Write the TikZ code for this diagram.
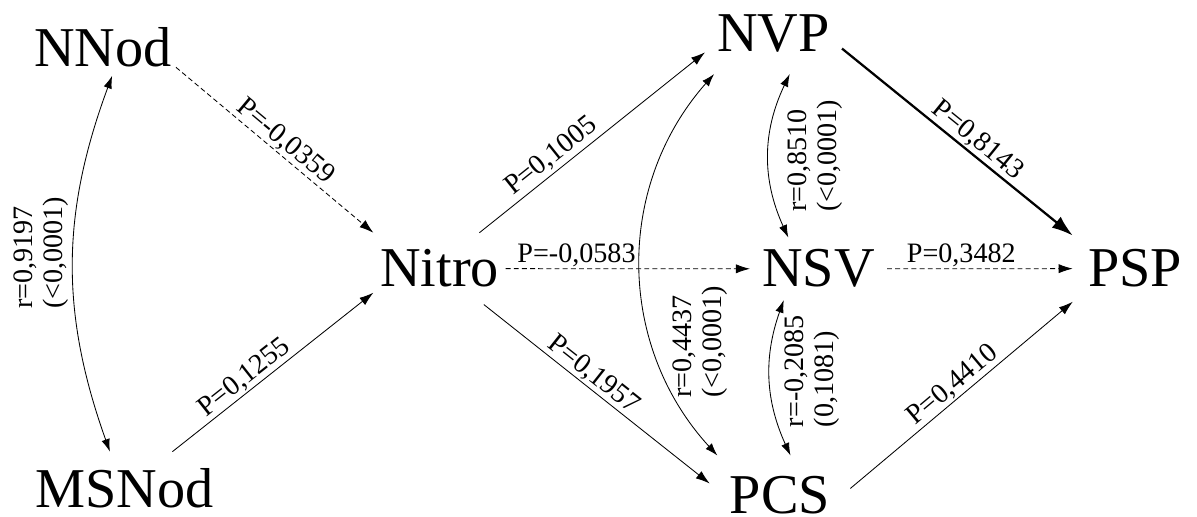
\documentclass[tikz,border=0pt]{standalone}
\usepackage{fontspec}
\setmainfont{Liberation Serif}
\usetikzlibrary{arrows.meta}

\begin{document}
\begin{tikzpicture}[x=0.025cm,y=-0.025cm,
  var/.style={font=\fontsize{40}{44}\selectfont,anchor=base},
  coef/.style={font=\fontsize{20}{21}\selectfont,sloped,above,inner sep=1pt},
  corr/.style={font=\fontsize{20}{21}\selectfont,rotate=90,align=left},
  arr/.style={line width=0.6pt,-{Latex[length=10pt,width=6.5pt]}},
  darr/.style={arr,dash pattern=on 3.5pt off 2.3pt},
  barr/.style={line width=0.6pt,{Latex[length=9pt,width=6pt]}-{Latex[length=9pt,width=6pt]}},
  tarr/.style={line width=1.6pt,-{Latex[length=15pt,width=10pt]}}]

\useasboundingbox (0,0) rectangle (1197,517);

% variables
\node[var,inner xsep=2.8pt,inner ysep=5.7pt] (NNod) at (103,67) {NNod};
\node[var,inner xsep=2.8pt,inner ysep=11.4pt] (MSNod) at (124.5,507) {MSNod};
\node[var,inner xsep=4.6pt,inner ysep=11.9pt] (Nitro) at (439.5,287) {Nitro};
\node[var,inner xsep=8.5pt,inner ysep=14.9pt] (NVP) at (773.5,52) {NVP};
\node[var,inner xsep=8.5pt,inner ysep=8.5pt] (NSV) at (818.5,287) {NSV};
\node[var,inner xsep=14.2pt,inner ysep=14.2pt] (PCS) at (780,513) {PCS};
\node[var,inner xsep=10.7pt,inner ysep=10.7pt] (PSP) at (1135,287) {PSP};

% path coefficients
\draw[darr] (NNod.-15) -- node[coef,pos=0.51] (pNN) {P=-0,0359} (Nitro.north west);
\draw[arr] (MSNod.37) -- node[coef,pos=0.4] (pMS) {P=0,1255} (Nitro.200);
\draw[arr] (Nitro.42) -- node[coef,inner sep=2pt,pos=0.36] (pNVP) {P=0,1005} (NVP.195);
\draw[darr] (Nitro.east) -- node[coef,pos=0.29] (pNSV) {P=-0,0583} (NSV.west);
\draw[arr] (Nitro.-39) -- node[coef,pos=0.45] (pPCS) {P=0,1957} (PCS.171);
\draw[tarr] (NVP.-12) -- node[coef,pos=0.55] (pVP) {P=0,8143} (PSP.152);
\draw[darr] (NSV.east) -- node[coef,pos=0.4] (pSP) {P=0,3482} (PSP.west);
\draw[arr] (PCS.5) -- node[coef,pos=0.5] (pCP) {P=0,4410} (PSP.208);

% correlations
\draw[barr] (NNod.-72) to[bend right=20] node[corr,pos=0.47,anchor=south,inner sep=3.5pt] (rNN) {r=0,9197\\(<0,0001)} (MSNod.112);
\draw[barr] (NVP.214) to[bend right=42] node[corr,pos=0.69,anchor=north,inner sep=14.5pt] (rVC) {r=0,4437\\(<0,0001)} (PCS.148);
\draw[barr] (NVP.-68) to[bend right=25] node[corr,pos=0.5,anchor=north,inner sep=13.5pt] (rVS) {r=0,8510\\(<0,0001)} (NSV.134);
\draw[barr] (NSV.222) to[bend right=22] node[corr,pos=0.45,anchor=north,inner sep=10.3pt] (rSC) {r=-0,2085\\(0,1081)} (PCS.75);
\end{tikzpicture}
\end{document}
